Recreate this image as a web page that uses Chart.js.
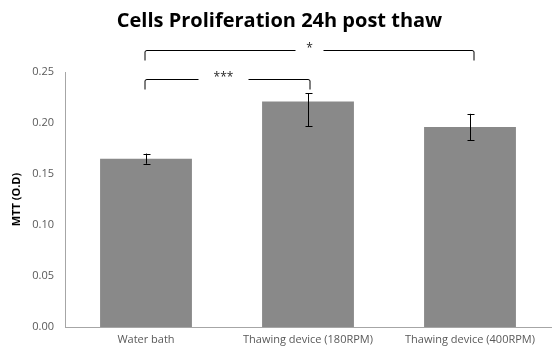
<!DOCTYPE html>
<html>
<head>
<meta charset="utf-8">
<script src="https://cdn.jsdelivr.net/npm/chart.js@4"></script>
<style>
html,body{margin:0;padding:0;background:#fff;}
#wrap{width:558px;height:357px;position:relative;}
</style>
</head>
<body>
<div id="wrap"><canvas id="c" width="558" height="357"></canvas></div>
<script>
const categories = ["Water bath", "Thawing device (180RPM)", "Thawing device (400RPM)"];
const mttValues = [0.165, 0.221, 0.196];
const errPlus = [0.005, 0.008, 0.013];
const errMinus = [0.005, 0.024, 0.013];
const yTicks = [0, 0.05, 0.10, 0.15, 0.20, 0.25];
// significance brackets
const sigFrom = [0, 0];
const sigTo = [1, 2];
const sigLevel = [0.243, 0.2716];
const sigLabel = ["***", "*"];

const FONT = "'Open Sans', 'Liberation Sans', sans-serif";

const overlay = {
  id: 'overlay',
  afterDatasetsDraw(chart) {
    const ctx = chart.ctx;
    const x = chart.scales.x, y = chart.scales.y;
    ctx.save();
    // error bars
    ctx.strokeStyle = '#000';
    ctx.lineWidth = 1;
    mttValues.forEach((v, i) => {
      const cx = Math.round(x.getPixelForValue(i)) + 0.5;
      const yt = y.getPixelForValue(v + errPlus[i]);
      const yb = y.getPixelForValue(v - errMinus[i]);
      ctx.beginPath();
      ctx.moveTo(cx, yt); ctx.lineTo(cx, yb);
      ctx.moveTo(cx - 3, Math.round(yt) + 0.5); ctx.lineTo(cx + 4, Math.round(yt) + 0.5);
      ctx.moveTo(cx - 3, Math.round(yb) + 0.5); ctx.lineTo(cx + 4, Math.round(yb) + 0.5);
      ctx.stroke();
    });
    // significance brackets
    ctx.font = "12px " + FONT;
    ctx.textAlign = 'center';
    ctx.textBaseline = 'middle';
    sigLevel.forEach((lv, k) => {
      const x1 = x.getPixelForValue(sigFrom[k]) - 1;
      const x2 = x.getPixelForValue(sigTo[k]) + (k === 1 ? 4 : 2);
      const yy = Math.round(y.getPixelForValue(lv)) + 0.5;
      const yd = yy + 10;
      const mid = (x1 + x2) / 2 + (k === 1 ? 0 : -4);
      const gap = k === 1 ? 14 : 25;
      ctx.strokeStyle = '#000';
      ctx.lineWidth = 1;
      ctx.beginPath();
      ctx.moveTo(x1, yd); ctx.lineTo(x1, yy + 1.5); ctx.quadraticCurveTo(x1, yy, x1 + 2, yy); ctx.lineTo(mid - gap, yy);
      ctx.moveTo(mid + gap, yy); ctx.lineTo(x2 - 2, yy); ctx.quadraticCurveTo(x2, yy, x2, yy + 1.5); ctx.lineTo(x2, yd);
      ctx.stroke();
      ctx.fillStyle = '#262626';
      ctx.fillText(sigLabel[k], mid, yy - 2);
    });
    ctx.restore();
  }
};

new Chart(document.getElementById('c'), {
  type: 'bar',
  data: {
    labels: categories,
    datasets: [{
      label: 'MTT (O.D)',
      data: mttValues,
      backgroundColor: '#898989',
      borderWidth: 0,
      categoryPercentage: 1.0,
      barPercentage: 0.567
    }]
  },
  options: {
    responsive: false,
    animation: false,
    devicePixelRatio: 1,
    layout: { padding: { top: 0, right: 7, left: 8, bottom: 0 } },
    plugins: {
      legend: { display: false },
      tooltip: { enabled: false },
      title: {
        display: true,
        text: 'Cells Proliferation 24h post thaw',
        color: '#000',
        font: { family: FONT, size: 20, weight: 'bold', lineHeight: 1.2 },
        padding: { top: 9, bottom: 39 }
      }
    },
    scales: {
      x: {
        grid: { display: false, drawTicks: false },
        border: { display: true, color: '#a6a6a6', width: 1 },
        ticks: { color: '#595959', font: { family: FONT, size: 11 }, padding: 6, maxRotation: 0 },
        afterFit(s) { s.height = 30; }
      },
      y: {
        min: 0, max: 0.25,
        afterBuildTicks(s) { s.ticks = yTicks.map(v => ({ value: v })); },
        grid: { display: false, drawTicks: false },
        border: { display: true, color: '#a6a6a6', width: 1 },
        ticks: {
          color: '#595959', font: { family: FONT, size: 11 }, padding: 11,
          callback: v => Number(v).toFixed(2)
        },
        title: {
          display: true, text: 'MTT (O.D)', color: '#000',
          font: { family: FONT, size: 11, weight: 'bold' }, padding: { top: 2, bottom: 0 }
        },
        afterFit(s) { s.width = 57; }
      }
    }
  },
  plugins: [overlay]
});
</script>
</body>
</html>
